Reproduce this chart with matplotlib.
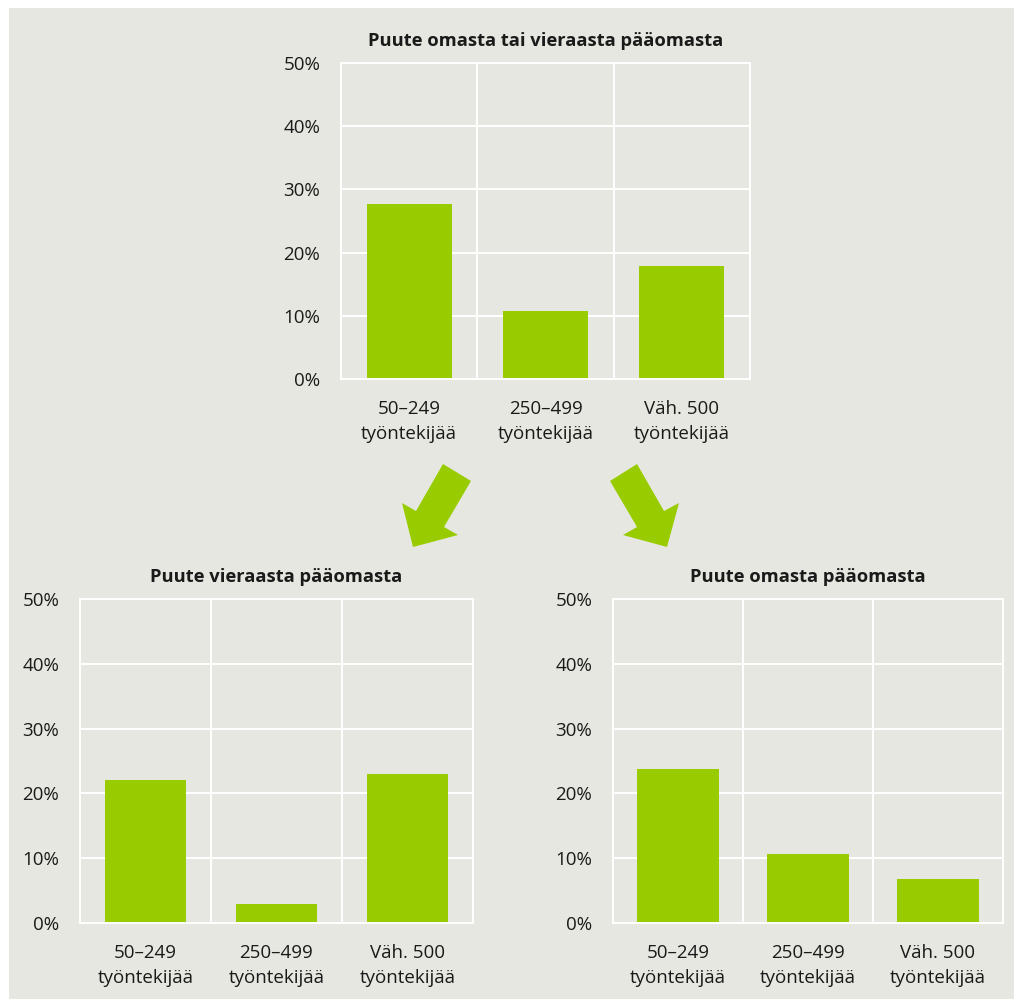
import matplotlib.pyplot as plt
from matplotlib.patches import Polygon, Rectangle
import numpy as np

plt.rcParams['font.family'] = ['Open Sans', 'DejaVu Sans']

categories = ['50–249\ntyöntekijää', '250–499\ntyöntekijää', 'Väh. 500\ntyöntekijää']
titles = ['Puute omasta tai vieraasta pääomasta',
          'Puute vieraasta pääomasta',
          'Puute omasta pääomasta']
# osuudet, %
puute_kaikki = [27.7, 10.7, 17.9]
puute_vieras = [22.0, 3.0, 23.0]
puute_oma = [23.8, 10.7, 6.8]
yticks = [0, 10, 20, 30, 40, 50]

W, H = 1014, 999
bg = '#e7e7e1'
green = '#99cc00'
txt = '#1a1a1a'

fig = plt.figure(figsize=(W / 100, H / 100), dpi=100)
fig.patch.set_facecolor('white')

def fx(px):
    return px / W

def fy(py):
    return 1 - py / H

# grey panel
fig.patches.append(Rectangle((fx(9), fy(999)), fx(1014) - fx(9), fy(8) - fy(999),
                             transform=fig.transFigure, facecolor=bg,
                             edgecolor='none', zorder=-10))

def make_axes(left, right, top, bottom):
    return fig.add_axes([fx(left), fy(bottom), fx(right) - fx(left), fy(top) - fy(bottom)])

def draw(ax, values, title):
    x = np.arange(len(categories))
    ax.set_facecolor(bg)
    ax.bar(x, values, width=0.625, color=green, zorder=2)
    ax.set_xlim(-0.5, len(categories) - 0.5)
    ax.set_ylim(0, 50)
    ax.set_yticks(yticks)
    ax.set_yticklabels([f'{v}%' for v in yticks])
    ax.set_xticks(x)
    ax.set_xticklabels(categories, linespacing=1.5)
    ax.set_xticks(np.arange(0.5, len(categories) - 0.5, 1), minor=True)
    ax.grid(axis='y', which='major', color='white', linewidth=1.4, zorder=1)
    ax.grid(axis='x', which='minor', color='white', linewidth=1.4, zorder=1)
    ax.grid(axis='x', which='major', visible=False)
    for s in ax.spines.values():
        s.set_color('white')
        s.set_linewidth(1.4)
    ax.tick_params(which='both', length=0, colors=txt, labelsize=13.5)
    ax.tick_params(axis='y', pad=15)
    ax.tick_params(axis='x', pad=15)
    ax.set_axisbelow(True)
    ax.set_title(title, fontsize=13.2, fontweight='bold', color=txt, pad=12)

ax1 = make_axes(341, 750, 63, 379)
ax2 = make_axes(80, 473, 599, 923)
ax3 = make_axes(613, 1003, 599, 923)
draw(ax1, puute_kaikki, titles[0])
draw(ax2, puute_vieras, titles[1])
draw(ax3, puute_oma, titles[2])

# arrows between charts
left_arrow = [(443, 464), (471, 481), (444, 527), (458, 535), (413, 547), (402, 503), (416, 511)]
right_arrow = [(637, 464), (610, 481), (637, 527), (623, 535), (667, 547), (679, 503), (664, 511)]
for pts in (left_arrow, right_arrow):
    fig.patches.append(Polygon([(fx(a), fy(b)) for a, b in pts], closed=True,
                               transform=fig.transFigure, facecolor=green,
                               edgecolor='none', zorder=1))

fig.savefig('out.png', dpi=100, facecolor=fig.get_facecolor())
